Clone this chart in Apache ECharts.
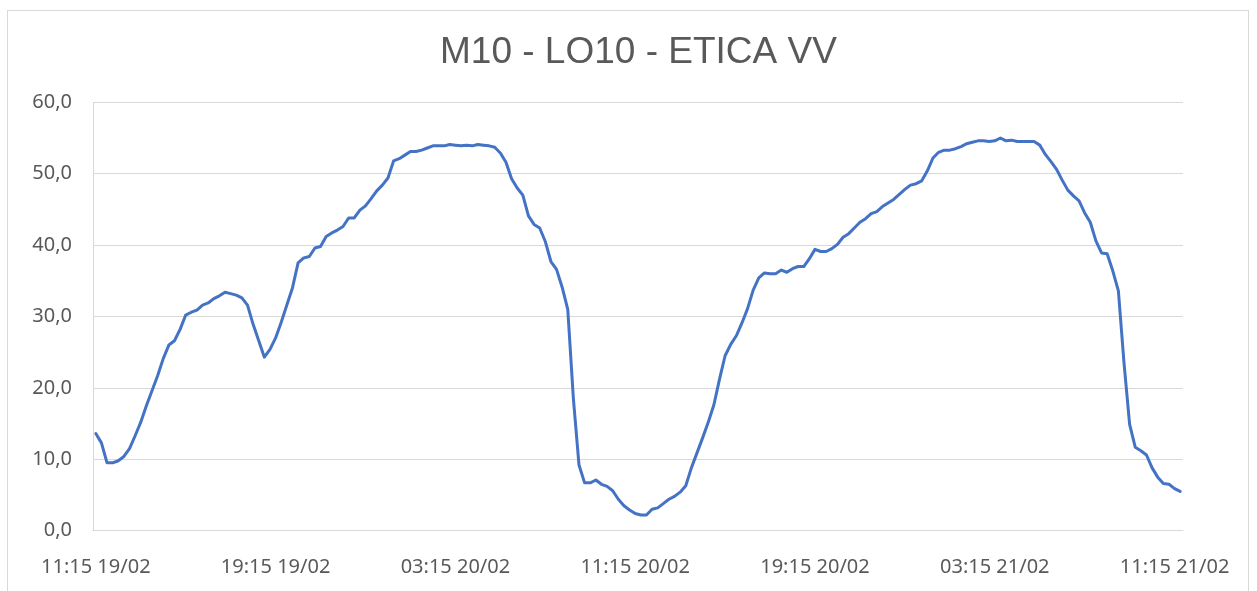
<!DOCTYPE html>
<html>
<head>
<meta charset="utf-8">
<script src="https://cdn.jsdelivr.net/npm/echarts@6/dist/echarts.min.js"></script>
<style>
  html, body { margin: 0; padding: 0; background: #ffffff; }
  #frame { position: absolute; left: 7px; top: 10px; width: 1242px; height: 620px; border: 1px solid #d9d9d9; box-sizing: border-box; }
  #chart { position: absolute; left: 0; top: 0; width: 1257px; height: 591px; }
</style>
</head>
<body>
<div id="frame"></div>
<div id="chart"></div>
<script>
// Title and axis settings
const chartTitle = 'M10 - LO10 - ETICA VV';
const startDay = 19, startMonth = 2, startHour = 11, startMinute = 15;
const stepMinutes = 15;
const yTicks = [0, 10, 20, 30, 40, 50, 60];

// Series values (15-minute readings)
const values = [
  13.6, 12.3, 9.5, 9.5, 9.8, 10.4, 11.5, 13.3, 15.2, 17.5,
  19.6, 21.7, 24.1, 26.0, 26.6, 28.2, 30.2, 30.6, 30.9, 31.6,
  31.9, 32.5, 32.9, 33.4, 33.2, 33.0, 32.6, 31.6, 28.9, 26.6,
  24.3, 25.4, 27.0, 29.2, 31.6, 34.0, 37.5, 38.2, 38.4, 39.6,
  39.8, 41.2, 41.7, 42.1, 42.6, 43.8, 43.8, 44.9, 45.5, 46.5,
  47.6, 48.4, 49.4, 51.8, 52.1, 52.6, 53.1, 53.1, 53.3, 53.6,
  53.9, 53.9, 53.9, 54.1, 54.0, 53.9, 54.0, 53.9, 54.1, 54.0,
  53.9, 53.7, 52.9, 51.6, 49.3, 48.0, 47.0, 44.1, 42.9, 42.4,
  40.5, 37.7, 36.6, 34.1, 31.0, 18.5, 9.2, 6.7, 6.7, 7.1,
  6.5, 6.2, 5.6, 4.4, 3.5, 2.9, 2.4, 2.2, 2.2, 3.0,
  3.2, 3.8, 4.4, 4.8, 5.4, 6.3, 8.8, 10.9, 13.0, 15.2,
  17.6, 21.2, 24.5, 26.1, 27.3, 29.1, 31.1, 33.7, 35.4, 36.1,
  36.0, 36.0, 36.5, 36.2, 36.7, 37.0, 37.0, 38.1, 39.4, 39.1,
  39.1, 39.5, 40.1, 41.1, 41.6, 42.4, 43.2, 43.7, 44.4, 44.7,
  45.4, 45.9, 46.4, 47.1, 47.8, 48.4, 48.6, 49.0, 50.4, 52.2,
  53.0, 53.3, 53.3, 53.5, 53.8, 54.2, 54.4, 54.6, 54.6, 54.5,
  54.6, 55.0, 54.6, 54.7, 54.5, 54.5, 54.5, 54.5, 54.0, 52.7,
  51.7, 50.6, 49.1, 47.7, 46.9, 46.2, 44.5, 43.2, 40.6, 38.9,
  38.8, 36.4, 33.6, 23.5, 14.9, 11.7, 11.2, 10.6, 8.8, 7.5,
  6.6, 6.5, 5.9, 5.5
];

// Category labels: "HH:MM DD/MM" every 15 minutes from the start time
function pad(n) { return (n < 10 ? '0' : '') + n; }
const categories = [];
{
  let d = startDay, h = startHour, m = startMinute;
  for (let i = 0; i < values.length; i++) {
    categories.push(pad(h) + ':' + pad(m) + ' ' + pad(d) + '/' + pad(startMonth));
    m += stepMinutes;
    while (m >= 60) { m -= 60; h += 1; }
    while (h >= 24) { h -= 24; d += 1; }
  }
}

const chart = echarts.init(document.getElementById('chart'), null, { renderer: 'canvas' });
chart.setOption({
  backgroundColor: 'transparent',
  animation: false,
  title: {
    text: chartTitle,
    left: 435,
    top: 29,
    textStyle: { fontFamily: 'Liberation Sans', fontSize: 37, fontWeight: 'normal', color: '#595959' }
  },
  grid: { left: 93, right: 74, top: 102.3, bottom: 60.3, containLabel: false },
  xAxis: {
    type: 'category',
    data: categories,
    boundaryGap: true,
    axisLine: { show: true, lineStyle: { color: '#d9d9d9', width: 1 } },
    axisTick: { show: false },
    axisLabel: {
      interval: 31,
      margin: 27,
      fontFamily: 'Noto Sans',
      fontSize: 20,
      color: '#595959'
    },
    splitLine: { show: false }
  },
  yAxis: {
    type: 'value',
    min: yTicks[0],
    max: yTicks[yTicks.length - 1],
    interval: yTicks[1] - yTicks[0],
    axisLine: { show: true, lineStyle: { color: '#d9d9d9', width: 1 } },
    axisTick: { show: false },
    axisLabel: {
      margin: 21,
      fontFamily: 'Noto Sans',
      fontSize: 20,
      color: '#595959',
      formatter: function (v) { return v.toFixed(1).replace('.', ','); }
    },
    splitLine: { show: true, lineStyle: { color: '#d9d9d9', width: 1 } }
  },
  series: [{
    type: 'line',
    data: values,
    showSymbol: false,
    symbol: 'none',
    smooth: false,
    lineStyle: { color: '#4472C4', width: 3, join: 'round', cap: 'round' },
    itemStyle: { color: '#4472C4' }
  }]
});
</script>
</body>
</html>
